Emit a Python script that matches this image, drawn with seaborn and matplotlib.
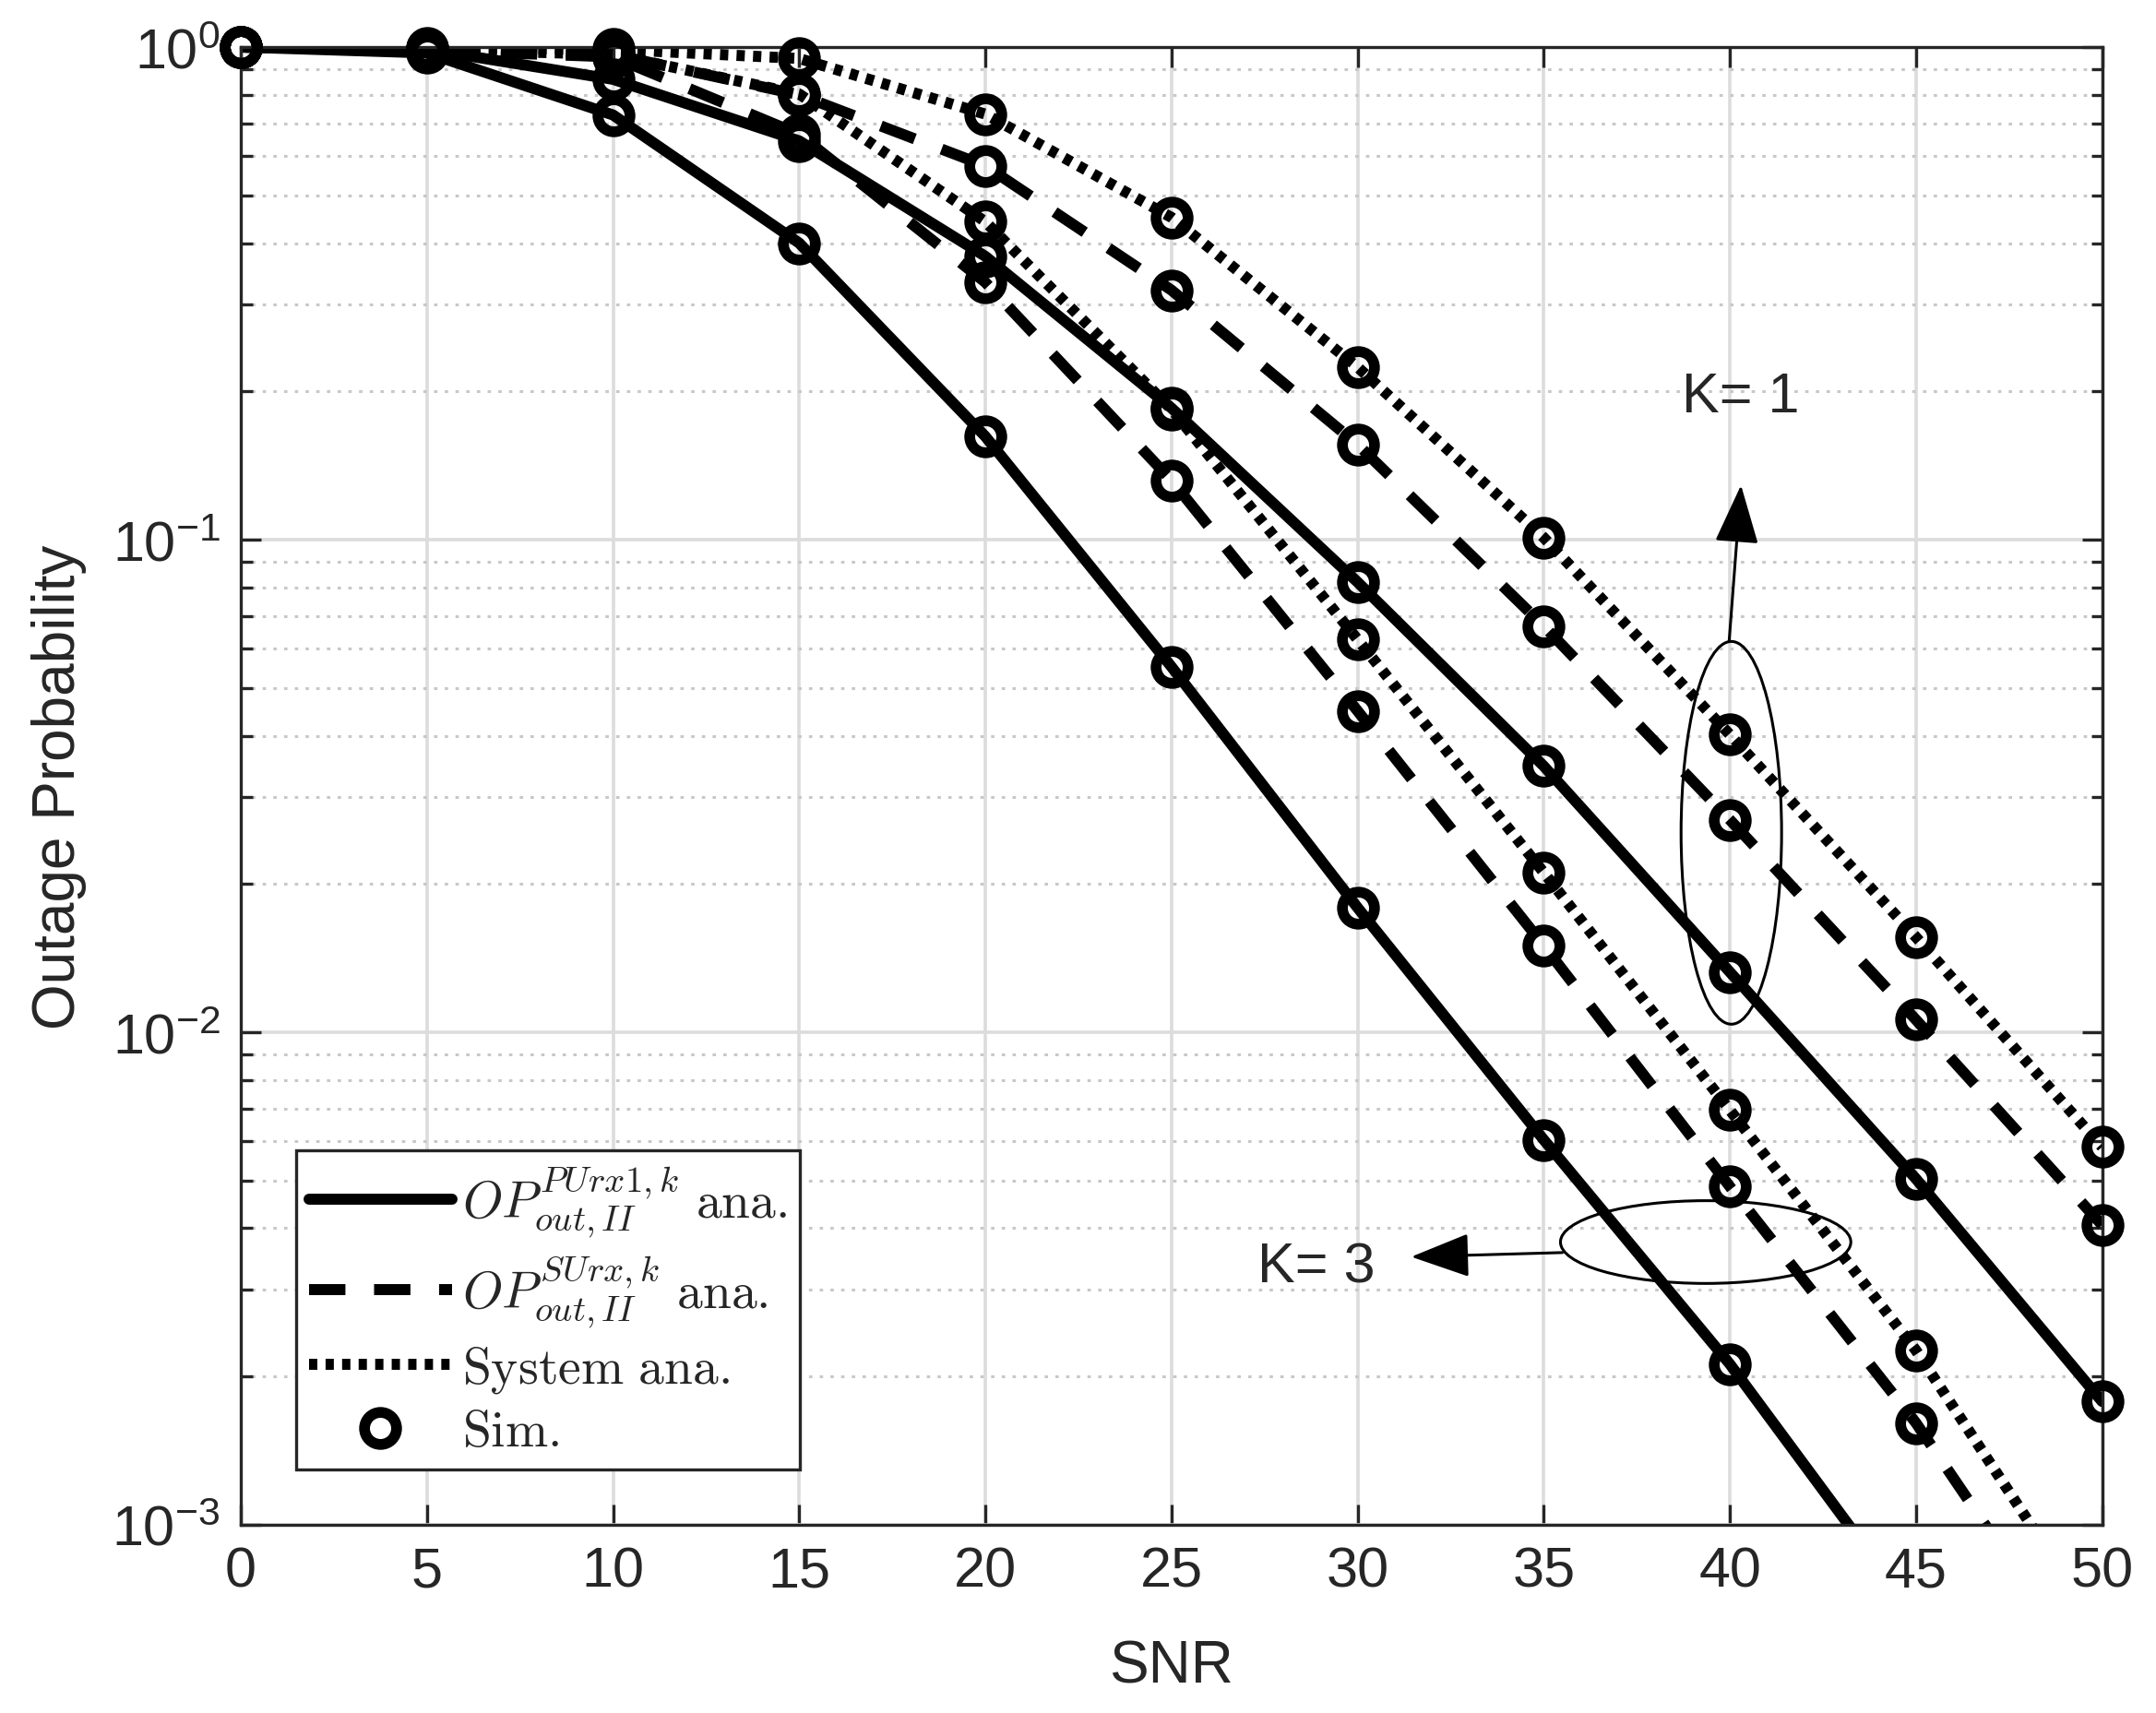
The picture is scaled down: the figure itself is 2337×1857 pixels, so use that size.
import numpy as np
import pandas as pd
import seaborn as sns
import matplotlib.pyplot as plt
from matplotlib.lines import Line2D
from matplotlib.patches import Ellipse
from matplotlib.ticker import LogLocator, NullFormatter

# values (outage probability vs SNR)
snr = [0, 5, 10, 15, 20, 25, 30, 35, 40, 45, 50]

pu_k1 = [1.0, 0.99, 0.86, 0.645, 0.376, 0.185, 0.082, 0.0347, 0.01325, 0.00504, 0.00178]
su_k1 = [1.0, 0.99, 0.966, 0.80, 0.574, 0.321, 0.156, 0.0668, 0.0270, 0.0106, 0.00406]
sys_k1 = [1.0, 0.995, 0.99, 0.948, 0.731, 0.451, 0.224, 0.101, 0.0402, 0.0156, 0.00585]

pu_k3 = [1.0, 0.973, 0.728, 0.40, 0.162, 0.0552, 0.0179, 0.00605, 0.00212, 0.000653, 0.0002]
su_k3 = [1.0, 0.986, 0.955, 0.665, 0.333, 0.132, 0.0449, 0.0150, 0.00486, 0.00161, 0.000447]
sys_k3 = [1.0, 0.99, 0.966, 0.803, 0.442, 0.184, 0.0627, 0.0211, 0.00695, 0.00226, 0.000603]

labels = [r'$OP_{out,II}^{PUrx1,k}\ \mathrm{ana.}$',
          r'$OP_{out,II}^{SUrx,k}\ \mathrm{ana.}$',
          r'$\mathrm{System\ ana.}$',
          r'$\mathrm{Sim.}$']

sns.set_style('ticks')
plt.rcParams['font.family'] = ['Liberation Sans', 'DejaVu Sans']
plt.rcParams['mathtext.fontset'] = 'cm'

solid = '-'
dashed = (0, (3.3, 2.6))
dotted = (0, (0.75, 0.75))
lw = 4.3
ms = 12.5
mew = 4.2
ymin, ymax = 1e-3, 1

fig = plt.figure(figsize=(11.685, 9.29), dpi=200)
ax = fig.add_axes([0.1117, 0.1098, 0.8633, 0.8622])
ax.set_yscale('log')

curves = [(pu_k1, solid), (su_k1, dashed), (sys_k1, dotted),
          (pu_k3, solid), (su_k3, dashed), (sys_k3, dotted)]
for vals, ls in curves:
    sns.lineplot(x=snr, y=vals, ax=ax, color='black', lw=lw, linestyle=ls,
                 errorbar=None, sort=False)
    df = pd.DataFrame({'snr': snr, 'p': vals})
    df = df[df.p >= ymin]
    sns.lineplot(data=df, x='snr', y='p', ax=ax, color='black', linestyle='none',
                 marker='o', ms=ms, mew=mew, mfc='none', mec='black',
                 errorbar=None, sort=False, clip_on=False, zorder=3)

ax.set_xlim(0, 50)
ax.set_ylim(ymin, ymax)
ax.set_xticks(range(0, 51, 5))
ax.yaxis.set_major_locator(LogLocator(base=10, numticks=10))
ax.yaxis.set_minor_locator(LogLocator(base=10, subs=np.arange(2, 10), numticks=20))
ax.yaxis.set_minor_formatter(NullFormatter())

ax.grid(which='major', color='#dcdcdc', lw=1.3, ls='-')
ax.yaxis.grid(which='minor', color='#c8c8c8', lw=1.1, ls=(0, (1.2, 2.6)))
ax.set_axisbelow(True)

for sp in ax.spines.values():
    sp.set_color('#262626')
    sp.set_linewidth(1.2)
ax.tick_params(which='both', direction='in', top=True, right=True,
               color='#262626', width=1.2, labelsize=22, labelcolor='#262626')
ax.tick_params(which='major', length=8, pad=8)
ax.tick_params(which='minor', length=4.5)

ax.set_xlabel('SNR', fontsize=23, color='#262626', labelpad=16)
ax.set_ylabel('Outage Probability', fontsize=23, color='#262626', labelpad=10)


def frac(x, p):
    return x / 50.0, (np.log10(p) + 3) / 3.0


arrow = dict(arrowstyle='-|>,head_length=0.4,head_width=0.15',
             mutation_scale=50, color='black', lw=1.1, shrinkA=0, shrinkB=0)

# K = 1 group
ax.add_patch(Ellipse(frac(40.04, 0.0254), 0.054, 0.259, transform=ax.transAxes,
                     fill=False, ec='black', lw=1.1))
ax.annotate('', xy=(40.3, 0.129), xytext=(39.98, 0.0621), arrowprops=arrow)
ax.text(40.28, 0.195, 'K= 1', fontsize=22, ha='center', va='center')

# K = 3 group
ax.add_patch(Ellipse(frac(39.35, 0.00375), 0.156, 0.056, transform=ax.transAxes,
                     fill=False, ec='black', lw=1.1))
ax.annotate('', xy=(31.44, 0.0035), xytext=(35.5, 0.00357), arrowprops=arrow)
ax.text(28.9, 0.00333, 'K= 3', fontsize=22, ha='center', va='center')

handles = [Line2D([], [], color='black', lw=lw, ls=solid),
           Line2D([], [], color='black', lw=lw, ls=dashed),
           Line2D([], [], color='black', lw=lw, ls=dotted),
           Line2D([], [], ls='none', marker='o', ms=ms, mew=mew, mfc='none', mec='black')]
leg = ax.legend(handles, labels, loc='lower left', bbox_to_anchor=(0.0296, 0.0374),
                borderaxespad=0, fancybox=False, edgecolor='#262626', framealpha=1,
                fontsize=20, handlelength=2.8, handletextpad=0.2,
                labelspacing=0.28, borderpad=0.25)
leg.get_frame().set_linewidth(1.2)

fig.savefig('out.png', dpi=200)
